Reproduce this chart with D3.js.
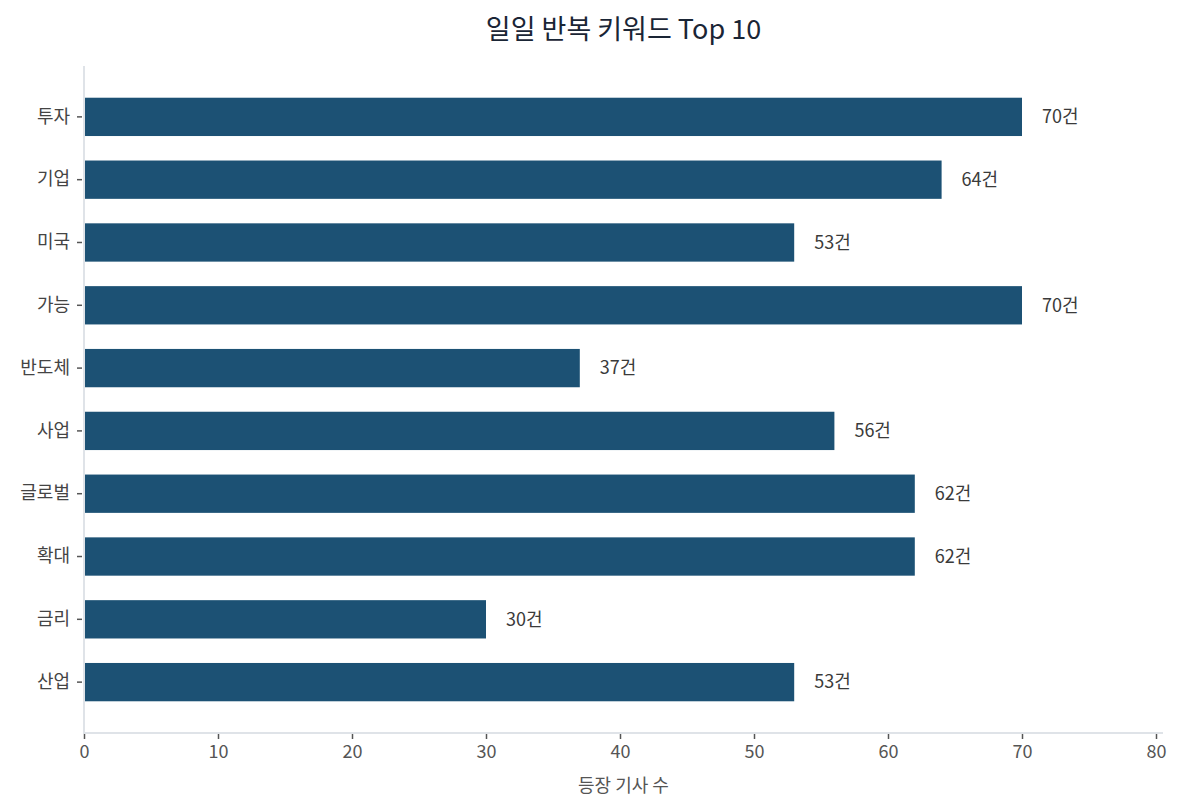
<!DOCTYPE html>
<meta charset="utf-8">
<head>
<style>
  body { margin: 0; background: #fff; }
  text { font-family: "Noto Sans CJK KR", "Noto Sans", sans-serif; }
</style>
</head>
<body>
<div id="chart"></div>
<script src="https://d3js.org/d3.v7.min.js"></script>
<script>

// keyword counts, top to bottom
var keywords = ["투자", "기업", "미국", "가능", "반도체", "사업", "글로벌", "확대", "금리", "산업"];
var counts   = [70, 64, 53, 70, 37, 56, 62, 62, 30, 53];
var xTicks   = [0, 10, 20, 30, 40, 50, 60, 70, 80];

var W = 1184, H = 809;
var plotL = 84, plotR = 1156, plotT = 66, plotB = 733, spineR = 1163;

var svg = d3.select("#chart").append("svg")
    .attr("width", W)
    .attr("height", H);

var x = d3.scaleLinear().domain([0, 80]).range([plotL, plotR]);
var y = d3.scaleBand().domain(keywords).range([plotT, plotB])
    .paddingInner(0.39)
    .paddingOuter(0.505);

// bars
svg.selectAll("rect.bar")
  .data(keywords)
  .enter()
  .append("rect")
    .attr("class", "bar")
    .attr("x", x(0))
    .attr("y", function(d) { return y(d); })
    .attr("width", function(d, i) { return x(counts[i]) - x(0); })
    .attr("height", y.bandwidth())
    .attr("fill", "#1c5174");

// value labels
svg.selectAll("text.val")
  .data(keywords)
  .enter()
  .append("text")
    .attr("class", "val")
    .attr("x", function(d, i) { return x(counts[i]) + 20; })
    .attr("y", function(d) { return y(d) + y.bandwidth() / 2; })
    .attr("dy", "0.35em")
    .style("font-size", "18px")
    .attr("fill", "#3a3a3a")
    .text(function(d, i) { return counts[i] + "건"; });

// spines
svg.append("line")
    .attr("x1", plotL).attr("x2", plotL)
    .attr("y1", plotT).attr("y2", plotB)
    .attr("stroke", "#dfe3e8").attr("stroke-width", 2);
svg.append("line")
    .attr("x1", plotL - 1).attr("x2", spineR)
    .attr("y1", plotB).attr("y2", plotB)
    .attr("stroke", "#dfe3e8").attr("stroke-width", 2);

// x axis
var xAxis = svg.append("g")
    .attr("transform", "translate(0," + (plotB + 1) + ")")
    .call(d3.axisBottom(x).tickValues(xTicks).tickSize(5).tickPadding(6));
xAxis.select(".domain").remove();
xAxis.selectAll(".tick line").attr("stroke", "#555").attr("stroke-width", 1.5);
xAxis.selectAll(".tick text")
    .style("font-size", "18px")
    .style("font-family", "'Noto Sans CJK KR', sans-serif")
    .attr("fill", "#555");

// y axis
var yAxis = svg.append("g")
    .attr("transform", "translate(" + (plotL - 2) + ",0)")
    .call(d3.axisLeft(y).tickSize(5).tickPadding(7));
yAxis.select(".domain").remove();
yAxis.selectAll(".tick line").attr("stroke", "#555").attr("stroke-width", 1.5);
yAxis.selectAll(".tick text")
    .style("font-size", "18px")
    .style("font-family", "'Noto Sans CJK KR', sans-serif")
    .attr("fill", "#444");

// axis title
svg.append("text")
    .attr("x", (plotL + spineR) / 2)
    .attr("y", 792)
    .attr("text-anchor", "middle")
    .style("font-size", "18px")
    .attr("fill", "#555")
    .text("등장 기사 수");

// title
svg.append("text")
    .attr("x", (plotL + spineR) / 2)
    .attr("y", 39)
    .attr("text-anchor", "middle")
    .style("font-size", "27px")
    .attr("fill", "#1a2535")
    .text("일일 반복 키워드 Top 10");

</script>
</body>
</html>
